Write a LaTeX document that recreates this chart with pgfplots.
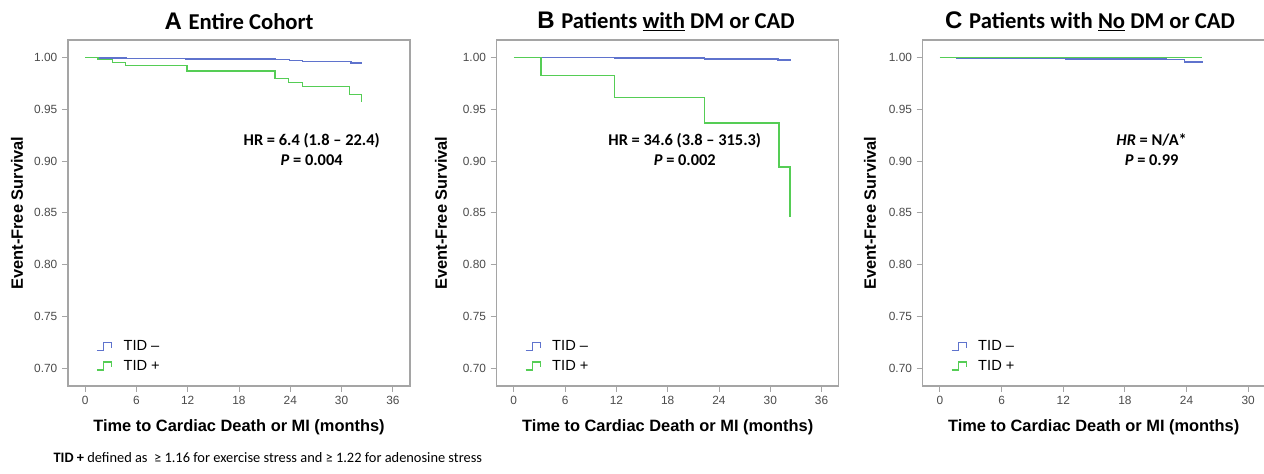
\documentclass[border=0pt]{standalone}
\usepackage{pgfplots}
\pgfplotsset{compat=1.18}
\usepackage{fontspec}
\setmainfont{Liberation Sans}
\newfontfamily\calfont{Carlito}
\definecolor{kmblue}{RGB}{95,115,205}
\definecolor{kmgreen}{RGB}{85,205,85}
\definecolor{framegray}{RGB}{165,165,165}
\definecolor{ticklab}{RGB}{75,75,75}
\pgfplotsset{
  ylab/.style={every axis y label/.style={at={(axis description cs:#1,0.5)}, rotate=90, anchor=center,
     font=\bfseries\fontsize{12.3}{14}\selectfont}},
  kmaxis/.style={
    scale only axis, width=256.5pt, height=259.5pt,
    anchor=south west,
    ymin=0.683, ymax=1.0167,
    ytick={0.70,0.75,0.80,0.85,0.90,0.95,1.00},
    yticklabel style={/pgf/number format/.cd,fixed,fixed zerofill,precision=2},
    /pgf/number format/assume math mode=true,
    tick align=outside, tick pos=left,
    major tick length=4.5pt,
    tick style={framegray, line width=0.7pt},
    axis line style={framegray, line width=1pt},
    ticklabel style={font=\fontsize{8.9}{10}\selectfont, text=ticklab},
    xlabel={Time to Cardiac Death or MI (months)},
    ylabel={Event-Free Survival},
    every axis x label/.style={at={(axis description cs:0.5,-0.12)}, anchor=center,
       font=\bfseries\fontsize{12.3}{14}\selectfont},
    legend image code/.code={\draw[##1,line width=1pt] (0pt,-3pt) -- (5pt,-3pt) -- (5pt,3pt) -- (11pt,3pt) -- (11pt,-1pt);},
    legend style={at={(axis description cs:0.07,0.145)}, anchor=north west, draw=none, fill=none,
      font=\fontsize{11}{12}\selectfont, row sep=2.3pt, column sep=7pt, nodes={inner sep=1.5pt}},
    legend cell align=left,
  },
  kmneg/.style={const plot, kmblue, line width=1.1pt},
  kmpos/.style={const plot, kmgreen, line width=1.1pt},
}
\begin{document}
\begin{tikzpicture}
% Panel A
\begin{axis}[kmaxis, ylab=-0.149, at={(51pt,66pt)}, xmin=-2, xmax=38, xtick={0,6,12,18,24,30,36}]
\addplot[kmneg] coordinates {(0,1) (1.5,0.9995) (4.8,0.999) (11.8,0.9984) (22.2,0.9977) (23.9,0.9968) (25.4,0.9962) (31.1,0.9946) (32.3,0.9942)};
\addlegendentry{TID –}
\addplot[kmpos] coordinates {(0,1) (1.5,0.998) (3.2,0.9952) (4.7,0.9919) (11.9,0.9868) (22.2,0.9797) (23.8,0.9755) (25.4,0.9717) (30.9,0.9643) (32.3,0.957)};
\addlegendentry{TID +}
\node[font=\calfont\bfseries\fontsize{12.3}{14.5}\selectfont, align=center] at (axis cs:26.5,0.911) {HR = 6.4 (1.8 – 22.4)\\\textit{P} = 0.004};
\end{axis}
% Panel B
\begin{axis}[kmaxis, ylab=-0.163, at={(372.5pt,66pt)}, xmin=-2, xmax=38, xtick={0,6,12,18,24,30,36}]
\addplot[kmneg] coordinates {(0,1) (11.8,0.9992) (22.3,0.9985) (30.9,0.9975) (32.3,0.9971)};
\addlegendentry{TID –}
\addplot[kmpos] coordinates {(0,1) (3.2,0.9822) (11.8,0.9614) (22.3,0.9366) (31.0,0.8944) (32.3,0.846)};
\addlegendentry{TID +}
\node[font=\calfont\bfseries\fontsize{12.3}{14.5}\selectfont, align=center] at (axis cs:20.0,0.911) {HR = 34.6 (3.8 – 315.3)\\\textit{P} = 0.002};
\end{axis}
% Panel C
\begin{axis}[kmaxis, ylab=-0.154, at={(692pt,66pt)}, xmin=-1.68, xmax=31.6, xtick={0,6,12,18,24,30}]
\addplot[kmneg] coordinates {(0,1) (1.6,0.9995) (4.8,0.999) (12.2,0.9985) (22.0,0.998) (23.8,0.9955) (25.5,0.995)};
\addlegendentry{TID –}
\addplot[kmpos] coordinates {(0,1) (25.5,1)};
\addlegendentry{TID +}
\node[font=\calfont\bfseries\fontsize{12.3}{14.5}\selectfont, align=center] at (axis cs:20.6,0.911) {\textit{HR} = N/A*\\\textit{P} = 0.99};
\end{axis}
% Titles
\node[anchor=center] at (179.3pt,339.2pt) {\bfseries\fontsize{18}{20}\selectfont A \calfont\fontsize{17}{20}\selectfont Entire Cohort};
\node[anchor=center] at (499.5pt,339.2pt) {\bfseries\fontsize{18}{20}\selectfont B \calfont\fontsize{17}{20}\selectfont Patients \underline{with} DM or CAD};
\node[anchor=center] at (817.5pt,339.2pt) {\bfseries\fontsize{18}{20}\selectfont C \calfont\fontsize{17}{20}\selectfont Patients with \underline{No} DM or CAD};
% Footnote
\node[anchor=west, inner sep=0pt] at (40pt,12.7pt) {\calfont\fontsize{10.8}{13}\selectfont\textbf{TID +} defined as\ \ ≥ 1.16 for exercise stress and ≥ 1.22 for adenosine stress};
\pgfresetboundingbox
\useasboundingbox (0,0) rectangle (948pt,355.5pt);
\end{tikzpicture}
\end{document}
